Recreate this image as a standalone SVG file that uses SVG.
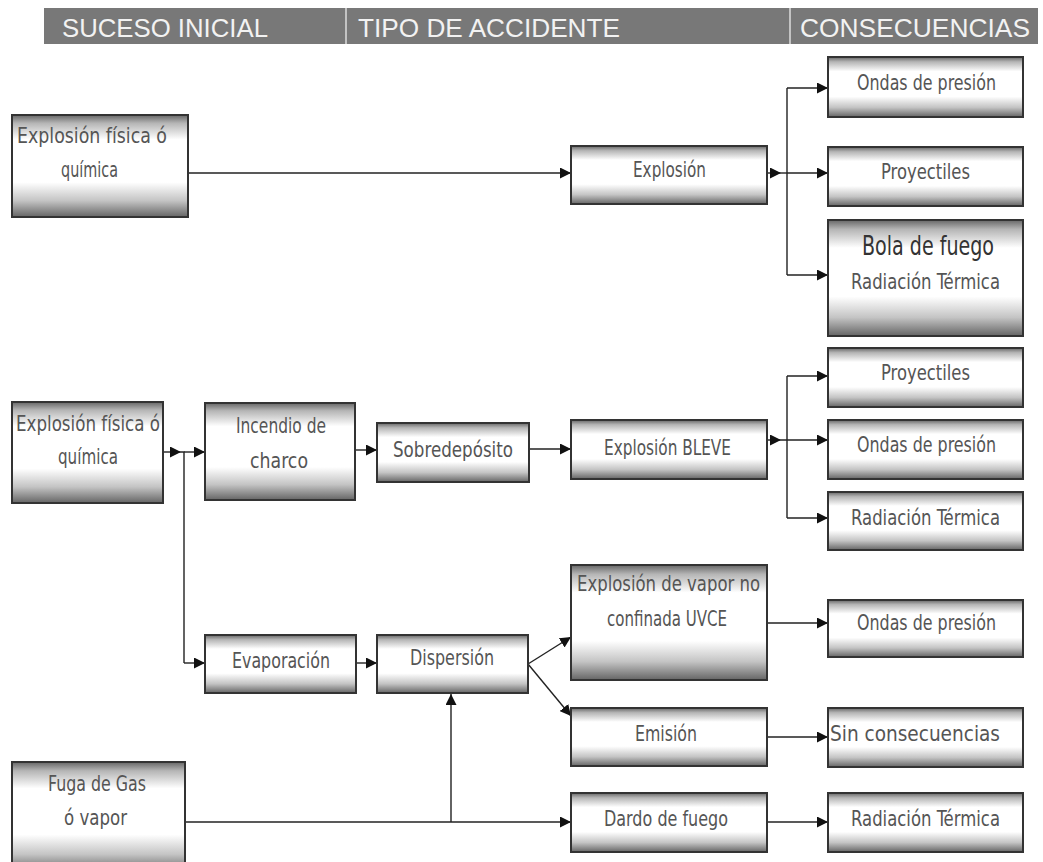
<svg xmlns="http://www.w3.org/2000/svg" width="1043" height="862" viewBox="0 0 1043 862">
<style>
.box{stroke:#333;stroke-width:2;fill:url(#g)}
.t{font-family:"DejaVu Sans Condensed","DejaVu Sans",sans-serif;font-size:22px;fill:#555;text-anchor:start}
.h{font-family:"Liberation Sans",Arial,sans-serif;font-size:26px;fill:#f2f2f2}
.c{fill:none;stroke:#222;stroke-width:1.4}
.a{marker-end:url(#ar)}
</style>
<defs>
<linearGradient id="g" x1="0" y1="0" x2="0" y2="1">
<stop offset="0" stop-color="#666"/>
<stop offset="0.08" stop-color="#b5b5b5"/>
<stop offset="0.24" stop-color="#fff"/>
<stop offset="0.66" stop-color="#fff"/>
<stop offset="0.84" stop-color="#c4c4c4"/>
<stop offset="1" stop-color="#656565"/>
</linearGradient>
<marker id="ar" viewBox="0 0 10 10" refX="10" refY="5" markerWidth="11" markerHeight="11" markerUnits="userSpaceOnUse" orient="auto">
<path d="M0,0 L10,5 L0,10 z" fill="#111"/>
</marker>
</defs>
<rect width="1043" height="862" fill="#fff"/>
<g id="header">
<rect x="44" y="8" width="994" height="36" fill="#787878"/>
<line x1="346" y1="8" x2="346" y2="44" stroke="#ddd" stroke-width="1.5"/>
<line x1="790" y1="8" x2="790" y2="44" stroke="#ddd" stroke-width="1.5"/>
<text class="h" x="62" y="37" textLength="206" lengthAdjust="spacingAndGlyphs">SUCESO INICIAL</text>
<text class="h" x="358" y="37" textLength="262" lengthAdjust="spacingAndGlyphs">TIPO DE ACCIDENTE</text>
<text class="h" x="800" y="37" textLength="230" lengthAdjust="spacingAndGlyphs">CONSECUENCIAS</text>
</g>
<g id="connectors">
<path class="c a" d="M188,173 H571"/>
<path class="c a" d="M767,173 H781"/>
<path class="c" d="M781,173 H787"/>
<path class="c a" d="M787,88 H828"/>
<path class="c" d="M787,88 V275"/>
<path class="c a" d="M787,173 H828"/>
<path class="c a" d="M787,275 H828"/>
<path class="c a" d="M163,452 H181"/>
<path class="c" d="M181,452 H184 V663"/>
<path class="c a" d="M184,452 H205"/>
<path class="c a" d="M184,663 H205"/>
<path class="c a" d="M355,450 H377"/>
<path class="c a" d="M529,449 H571"/>
<path class="c a" d="M767,440 H781"/>
<path class="c" d="M781,440 H787 M787,376 V518"/>
<path class="c a" d="M787,376 H828"/>
<path class="c a" d="M787,440 H828"/>
<path class="c a" d="M787,518 H828"/>
<path class="c a" d="M356,663 H377"/>
<path class="c a" d="M528,664 L571,637"/>
<path class="c a" d="M528,664 L571,716"/>
<path class="c a" d="M767,623 H828"/>
<path class="c a" d="M767,737 H828"/>
<path class="c a" d="M185,822 H571"/>
<path class="c a" d="M451,822 V694"/>
<path class="c a" d="M767,822 H828"/>
</g>
<g id="n1"><rect class="box" x="12" y="115" width="176" height="102"/>
<text class="t" x="17" y="143" textLength="150" lengthAdjust="spacingAndGlyphs">Explosión física ó</text>
<text class="t" x="61" y="177" textLength="57" lengthAdjust="spacingAndGlyphs">química</text></g>
<g id="n2"><rect class="box" x="571" y="146" width="196" height="58"/>
<text class="t" x="633" y="177" textLength="73" lengthAdjust="spacingAndGlyphs">Explosión</text></g>
<g id="n3"><rect class="box" x="828" y="57" width="195" height="60"/>
<text class="t" x="857" y="90" textLength="139" lengthAdjust="spacingAndGlyphs">Ondas de presión</text></g>
<g id="n4"><rect class="box" x="828" y="147" width="195" height="59"/>
<text class="t" x="881" y="179" textLength="89" lengthAdjust="spacingAndGlyphs">Proyectiles</text></g>
<g id="n5"><rect class="box" x="828" y="220" width="195" height="116"/>
<text class="t" x="862" y="255" textLength="132" lengthAdjust="spacingAndGlyphs" style="font-size:27px;fill:#333">Bola de fuego</text>
<text class="t" x="851" y="289" textLength="149" lengthAdjust="spacingAndGlyphs">Radiación Térmica</text></g>
<g id="n6"><rect class="box" x="12" y="402" width="151" height="101"/>
<text class="t" x="16" y="431" textLength="144" lengthAdjust="spacingAndGlyphs">Explosión física ó</text>
<text class="t" x="58" y="464" textLength="60" lengthAdjust="spacingAndGlyphs">química</text></g>
<g id="n7"><rect class="box" x="205" y="403" width="150" height="97"/>
<text class="t" x="236" y="433" textLength="90" lengthAdjust="spacingAndGlyphs">Incendio de</text>
<text class="t" x="250" y="468" textLength="58" lengthAdjust="spacingAndGlyphs">charco</text></g>
<g id="n8"><rect class="box" x="377" y="423" width="152" height="59"/>
<text class="t" x="393" y="457" textLength="120" lengthAdjust="spacingAndGlyphs">Sobredepósito</text></g>
<g id="n9"><rect class="box" x="571" y="420" width="196" height="59"/>
<text class="t" x="604" y="455" textLength="127" lengthAdjust="spacingAndGlyphs">Explosión BLEVE</text></g>
<g id="n10"><rect class="box" x="828" y="348" width="195" height="59"/>
<text class="t" x="881" y="380" textLength="89" lengthAdjust="spacingAndGlyphs">Proyectiles</text></g>
<g id="n11"><rect class="box" x="828" y="420" width="195" height="59"/>
<text class="t" x="857" y="452" textLength="139" lengthAdjust="spacingAndGlyphs">Ondas de presión</text></g>
<g id="n12"><rect class="box" x="828" y="492" width="195" height="58"/>
<text class="t" x="851" y="525" textLength="149" lengthAdjust="spacingAndGlyphs">Radiación Térmica</text></g>
<g id="n13"><rect class="box" x="571" y="565" width="196" height="115"/>
<text class="t" x="577" y="591" textLength="183" lengthAdjust="spacingAndGlyphs">Explosión de vapor no</text>
<text class="t" x="607" y="626" textLength="120" lengthAdjust="spacingAndGlyphs">confinada UVCE</text></g>
<g id="n14"><rect class="box" x="828" y="600" width="195" height="57"/>
<text class="t" x="857" y="630" textLength="139" lengthAdjust="spacingAndGlyphs">Ondas de presión</text></g>
<g id="n15"><rect class="box" x="205" y="635" width="151" height="58"/>
<text class="t" x="232" y="668" textLength="98" lengthAdjust="spacingAndGlyphs">Evaporación</text></g>
<g id="n16"><rect class="box" x="377" y="635" width="151" height="58"/>
<text class="t" x="410" y="665" textLength="84" lengthAdjust="spacingAndGlyphs">Dispersión</text></g>
<g id="n17"><rect class="box" x="571" y="708" width="196" height="58"/>
<text class="t" x="635" y="741" textLength="62" lengthAdjust="spacingAndGlyphs">Emisión</text></g>
<g id="n18"><rect class="box" x="828" y="708" width="195" height="59"/>
<text class="t" x="830" y="741" textLength="170" lengthAdjust="spacingAndGlyphs">Sin consecuencias</text></g>
<g id="n19"><rect class="box" x="12" y="762" width="173" height="110"/>
<text class="t" x="48" y="791" textLength="98" lengthAdjust="spacingAndGlyphs">Fuga de Gas</text>
<text class="t" x="64" y="825" textLength="63" lengthAdjust="spacingAndGlyphs">ó vapor</text></g>
<g id="n20"><rect class="box" x="571" y="793" width="196" height="59"/>
<text class="t" x="604" y="826" textLength="124" lengthAdjust="spacingAndGlyphs">Dardo de fuego</text></g>
<g id="n21"><rect class="box" x="828" y="793" width="195" height="59"/>
<text class="t" x="851" y="826" textLength="149" lengthAdjust="spacingAndGlyphs">Radiación Térmica</text></g>
</svg>
